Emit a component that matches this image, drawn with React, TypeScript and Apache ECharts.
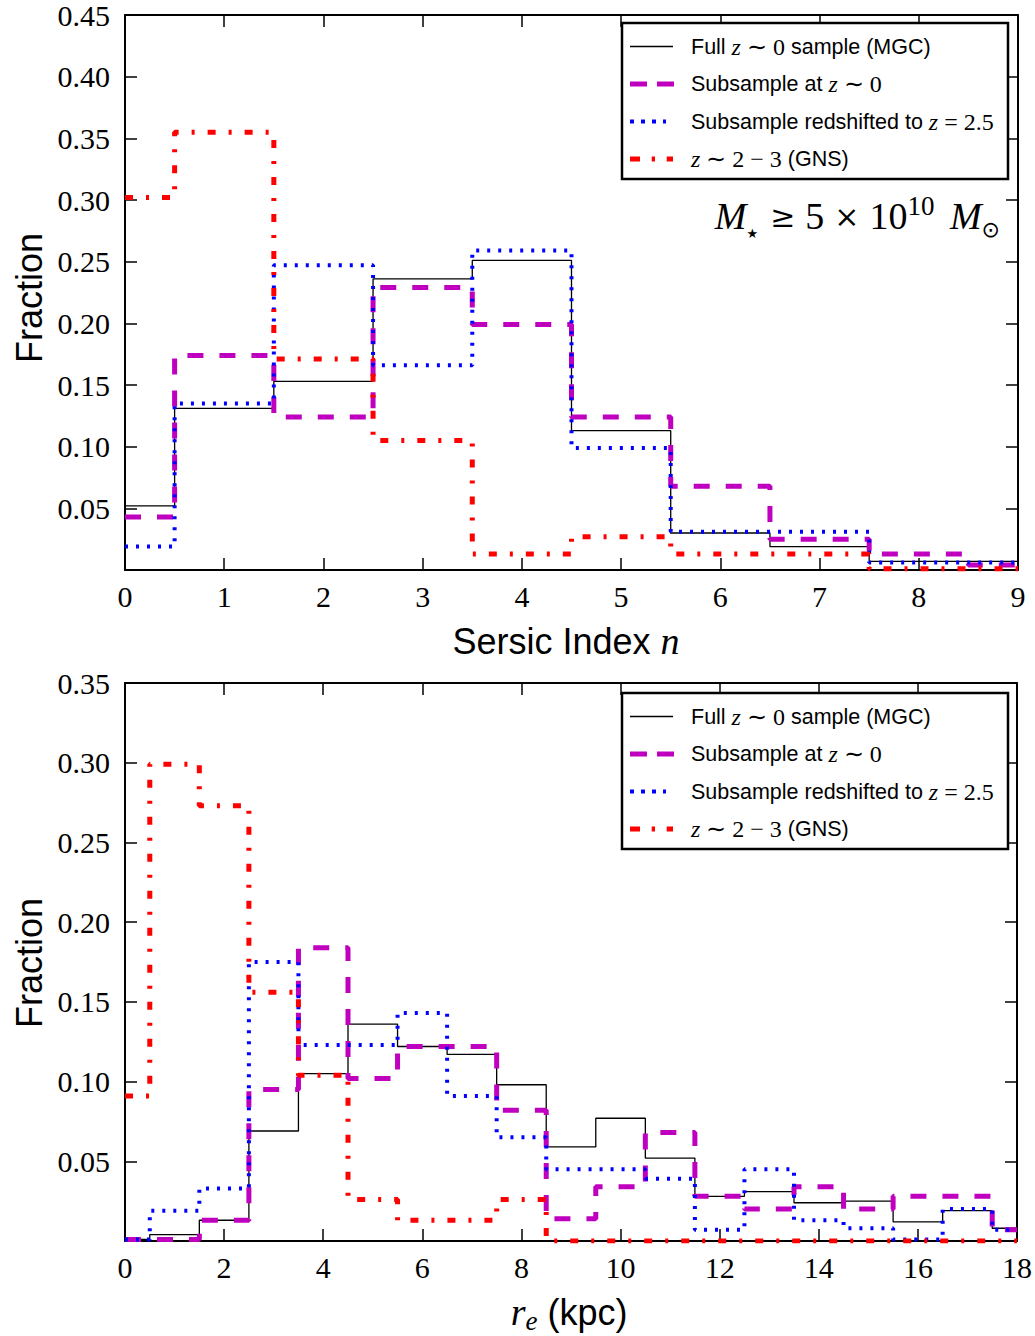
import React, { useEffect, useRef } from 'react';
import * as echarts from 'echarts';

// ---------- Data ----------
// Top panel: Sersic index histogram (bin edges, bins centred on integers)
const sersicEdges = [0, 0.5, 1.5, 2.5, 3.5, 4.5, 5.5, 6.5, 7.5, 8.5, 9];
const sersicFull = [0.052, 0.131, 0.153, 0.236, 0.251, 0.113, 0.030, 0.019, 0.007, 0.007];
const sersicSub = [0.043, 0.174, 0.124, 0.229, 0.199, 0.124, 0.068, 0.025, 0.013, 0.004];
const sersicRedshifted = [0.019, 0.135, 0.247, 0.166, 0.259, 0.099, 0.031, 0.031, 0.006, 0.006];
const sersicGNS = [0.302, 0.355, 0.171, 0.105, 0.013, 0.027, 0.013, 0.013, 0.001, 0.001];

// Bottom panel: effective radius histogram (kpc)
const sizeEdges = [0, 0.5, 1.5, 2.5, 3.5, 4.5, 5.5, 6.5, 7.5, 8.5, 9.5, 10.5, 11.5, 12.5, 13.5, 14.5, 15.5, 16.5, 17.5, 18];
const sizeFull = [0.001, 0.004, 0.013, 0.069, 0.105, 0.136, 0.122, 0.117, 0.098, 0.059, 0.077, 0.052, 0.028, 0.031, 0.024, 0.025, 0.012, 0.019, 0.008];
const sizeSub = [0.001, 0.001, 0.013, 0.095, 0.184, 0.102, 0.122, 0.122, 0.082, 0.014, 0.034, 0.068, 0.028, 0.020, 0.034, 0.020, 0.028, 0.028, 0.007];
const sizeRedshifted = [0.001, 0.019, 0.033, 0.175, 0.123, 0.123, 0.143, 0.091, 0.065, 0.045, 0.045, 0.039, 0.007, 0.045, 0.013, 0.008, 0.001, 0.020, 0.007];
const sizeGNS = [0.091, 0.299, 0.273, 0.156, 0.104, 0.026, 0.013, 0.013, 0.026, 0, 0, 0, 0, 0, 0, 0, 0, 0, 0];

const sersicTicks = [0, 1, 2, 3, 4, 5, 6, 7, 8, 9];
const sizeTicks = [0, 2, 4, 6, 8, 10, 12, 14, 16, 18];

const seriesNames = [
  'Full z~0 sample (MGC)',
  'Subsample at z~0',
  'Subsample redshifted to z=2.5',
  'z~2-3 (GNS)',
];

// ---------- Styles ----------
const lineStyles = [
  { color: '#000000', width: 1.3, type: 'solid' as any },
  { color: '#BF00BF', width: 5, type: [16, 16] as any },
  { color: '#0000FF', width: 4, type: [3, 8] as any },
  { color: '#FF0000', width: 5, type: [8, 13, 3, 13] as any },
];

const SERIF = 'Liberation Serif';
const SANS = 'Liberation Sans';

function stepData(edges: number[], vals: number[]) {
  return edges.map((x, i) => [x, vals[Math.min(i, vals.length - 1)]]);
}

function legendGraphics(top: number) {
  const left = 622;
  const rowY = [23.5, 61, 98.5, 136].map((d) => top + d);
  const x1 = 630;
  const textX = 691;
  const els: any[] = [
    {
      type: 'rect',
      shape: { x: left, y: top, width: 386, height: 156 },
      style: { fill: '#fff', stroke: '#000', lineWidth: 2.5 },
      z: 50,
    },
    {
      type: 'line',
      shape: { x1, y1: rowY[0], x2: 673, y2: rowY[0] },
      style: { stroke: '#000', lineWidth: 1.3 },
      z: 51,
    },
    {
      type: 'line',
      shape: { x1, y1: rowY[1], x2: 674, y2: rowY[1] },
      style: { stroke: '#BF00BF', lineWidth: 5, lineDash: [17, 10] },
      z: 51,
    },
    {
      type: 'line',
      shape: { x1, y1: rowY[2], x2: 666, y2: rowY[2] },
      style: { stroke: '#0000FF', lineWidth: 4, lineDash: [4, 7] },
      z: 51,
    },
    {
      type: 'line',
      shape: { x1, y1: rowY[3], x2: 673, y2: rowY[3] },
      style: { stroke: '#FF0000', lineWidth: 5, lineDash: [10, 11.7, 3.3, 11.7] },
      z: 51,
    },
  ];
  const rich = {
    s: { fontFamily: SANS, fontSize: 21.5, fill: '#000' },
    i: { fontFamily: SERIF, fontStyle: 'italic', fontSize: 24, fill: '#000' },
    m: { fontFamily: SERIF, fontSize: 24, fill: '#000' },
  };
  const texts = [
    '{s|Full }{i|z}{m| ∼ 0}{s| sample (MGC)}',
    '{s|Subsample at }{i|z}{m| ∼ 0}',
    '{s|Subsample redshifted to }{i|z}{m| = 2.5}',
    '{i|z}{m| ∼ 2 − 3}{s| (GNS)}',
  ];
  texts.forEach((t, k) => {
    els.push({
      type: 'text',
      x: textX,
      y: rowY[k],
      z: 52,
      style: {
        text: t,
        rich,
        fill: '#000',
        align: 'left',
        verticalAlign: 'middle',
        textAlign: 'left',
        textVerticalAlign: 'middle',
      },
    });
  });
  return els;
}

function buildOption() {
  const grids = [
    { left: 125, top: 13, width: 893, height: 557 },
    { left: 125, top: 683, width: 893, height: 558 },
  ];
  const axisCommon = {
    axisLine: { show: true, onZero: false, lineStyle: { color: '#000', width: 2 } },
    axisTick: { show: true, inside: true, length: 12, lineStyle: { color: '#000', width: 1.5 } },
    splitLine: { show: false },
  };
  const labelFont = { fontFamily: SERIF, fontSize: 30, color: '#000' };

  const xAxes: any[] = [];
  const yAxes: any[] = [];
  const panels = [
    { max: 9, xInterval: 1, yMax: 0.45, ticks: sersicTicks },
    { max: 18, xInterval: 2, yMax: 0.35, ticks: sizeTicks },
  ];
  panels.forEach((p, g) => {
    xAxes.push({
      type: 'value', gridIndex: g, position: 'bottom', min: 0, max: p.max, interval: p.xInterval,
      ...axisCommon,
      axisLabel: {
        show: true, margin: 11, ...labelFont, showMinLabel: true, showMaxLabel: true, hideOverlap: false,
        formatter: (v: number) => (p.ticks.includes(v) ? String(v) : ''),
      },
    });
    xAxes.push({
      type: 'value', gridIndex: g, position: 'top', min: 0, max: p.max, interval: p.xInterval,
      ...axisCommon, axisLabel: { show: false },
    });
    yAxes.push({
      type: 'value', gridIndex: g, position: 'left', min: 0, max: p.yMax, interval: 0.05,
      ...axisCommon,
      axisLabel: {
        show: true, margin: 15, ...labelFont, showMinLabel: true, showMaxLabel: true, hideOverlap: false,
        formatter: (v: number) => (v < 1e-9 ? '' : v.toFixed(2)),
      },
    });
    yAxes.push({
      type: 'value', gridIndex: g, position: 'right', min: 0, max: p.yMax, interval: 0.05,
      ...axisCommon, axisLabel: { show: false },
    });
  });

  const topSets = [sersicFull, sersicSub, sersicRedshifted, sersicGNS];
  const botSets = [sizeFull, sizeSub, sizeRedshifted, sizeGNS];
  const series: any[] = [];
  topSets.forEach((vals, k) => {
    series.push({
      type: 'line', name: seriesNames[k], xAxisIndex: 0, yAxisIndex: 0, step: 'end',
      showSymbol: false, symbol: 'none', data: stepData(sersicEdges, vals),
      lineStyle: lineStyles[k], z: 2 + k,
    });
  });
  botSets.forEach((vals, k) => {
    series.push({
      type: 'line', name: seriesNames[k], xAxisIndex: 2, yAxisIndex: 2, step: 'end',
      showSymbol: false, symbol: 'none', data: stepData(sizeEdges, vals),
      lineStyle: lineStyles[k], z: 2 + k,
    });
  });

  const graphic: any[] = [
    ...legendGraphics(23),
    ...legendGraphics(693),
    {
      type: 'text', x: 1000, y: 216, z: 60,
      style: {
        text: '{m|M}{star|★}{op|≥}{r|5}{op|×}{r|10}{sup|10}{gap| }{m|M}{sub|⊙}',
        rich: {
          m: { fontFamily: SERIF, fontStyle: 'italic', fontSize: 38, lineHeight: 48, verticalAlign: 'middle', fill: '#000' },
          r: { fontFamily: SERIF, fontSize: 38, lineHeight: 48, verticalAlign: 'middle', fill: '#000' },
          op: { fontFamily: 'DejaVu Serif', fontSize: 30, lineHeight: 48, verticalAlign: 'middle', fill: '#000', padding: [0, 10, 0, 10] },
          sup: { fontFamily: SERIF, fontSize: 27, lineHeight: 36, verticalAlign: 'top', fill: '#000' },
          sub: { fontFamily: 'DejaVu Sans', fontSize: 22, lineHeight: 30, verticalAlign: 'bottom', fill: '#000' },
          star: { fontFamily: 'DejaVu Sans', fontSize: 13, lineHeight: 24, verticalAlign: 'bottom', fill: '#000', padding: [0, 2, 0, 0] },
          gap: { fontFamily: SERIF, fontSize: 38, lineHeight: 48, verticalAlign: 'middle', padding: [0, 6, 0, 0] },
        },
        align: 'right', verticalAlign: 'middle', textAlign: 'right', textVerticalAlign: 'middle',
      },
    },
    {
      type: 'text', x: 566, y: 641, z: 60,
      style: {
        text: '{s|Sersic Index }{i|n}',
        rich: {
          s: { fontFamily: SANS, fontSize: 36, fill: '#000' },
          i: { fontFamily: SERIF, fontStyle: 'italic', fontSize: 38, fill: '#000' },
        },
        align: 'center', verticalAlign: 'middle', textAlign: 'center', textVerticalAlign: 'middle',
      },
    },
    {
      type: 'text', x: 569, y: 1312, z: 60,
      style: {
        text: '{i|r}{sub|e}{s| (kpc)}',
        rich: {
          s: { fontFamily: SANS, fontSize: 36, lineHeight: 44, verticalAlign: 'middle', fill: '#000' },
          i: { fontFamily: SERIF, fontStyle: 'italic', fontSize: 38, lineHeight: 44, verticalAlign: 'middle', fill: '#000' },
          sub: { fontFamily: SERIF, fontStyle: 'italic', fontSize: 27, lineHeight: 28, verticalAlign: 'bottom', fill: '#000' },
        },
        align: 'center', verticalAlign: 'middle', textAlign: 'center', textVerticalAlign: 'middle',
      },
    },
    {
      type: 'text', x: 29, y: 298, rotation: Math.PI / 2, z: 60,
      style: {
        text: 'Fraction', fontFamily: SANS, fontSize: 36, fill: '#000',
        align: 'center', verticalAlign: 'middle', textAlign: 'center', textVerticalAlign: 'middle',
      },
    },
    {
      type: 'text', x: 29, y: 963, rotation: Math.PI / 2, z: 60,
      style: {
        text: 'Fraction', fontFamily: SANS, fontSize: 36, fill: '#000',
        align: 'center', verticalAlign: 'middle', textAlign: 'center', textVerticalAlign: 'middle',
      },
    },
  ];

  return {
    animation: false,
    backgroundColor: '#ffffff',
    grid: grids,
    xAxis: xAxes,
    yAxis: yAxes,
    series,
    graphic,
  };
}

export default function App() {
  const ref = useRef<HTMLDivElement>(null);
  useEffect(() => {
    if (!ref.current) return;
    const chart = echarts.init(ref.current, undefined, { renderer: 'svg' });
    chart.setOption(buildOption() as any);
    return () => chart.dispose();
  }, []);
  return (
    <div
      ref={ref}
      style={{ position: 'absolute', left: 0, top: 0, width: 1035, height: 1336, background: '#fff' }}
    />
  );
}
